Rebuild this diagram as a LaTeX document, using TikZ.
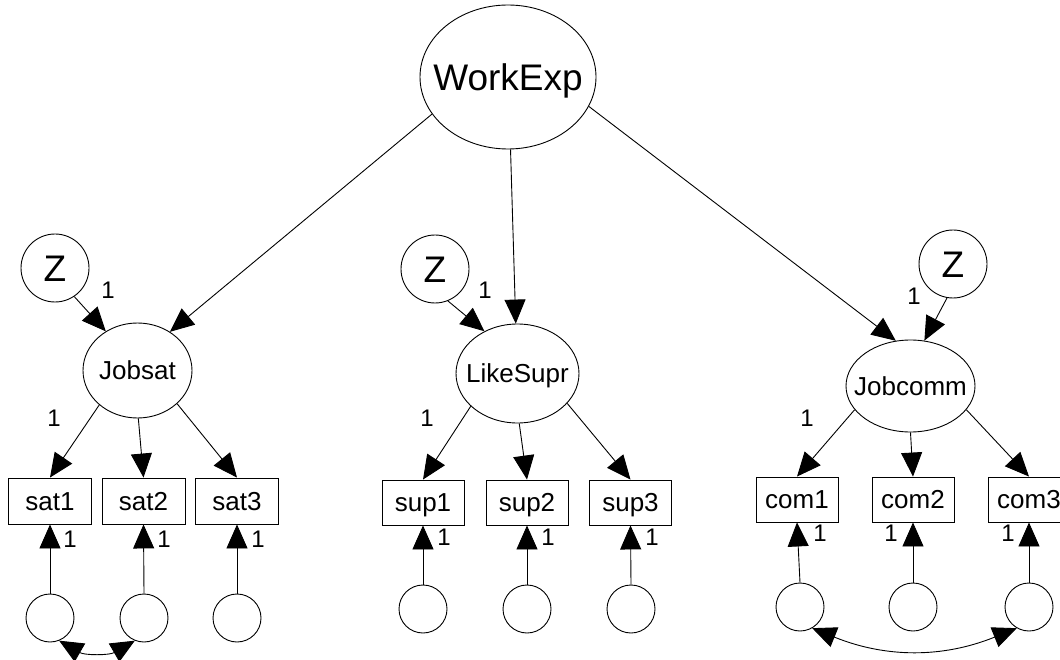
\documentclass[tikz,border=0pt]{standalone}
\usepackage{fontspec}
\setmainfont{Liberation Sans}
\usetikzlibrary{arrows.meta,shapes.geometric}
\tikzset{
  base/.style={draw=black,line width=0.9pt,inner sep=0pt,text depth=0pt},
  lat/.style={base,ellipse,font=\fontsize{26}{26}\selectfont,text height=18.6pt},
  big/.style={base,ellipse,font=\fontsize{37}{37}\selectfont,text height=26.5pt},
  zc/.style={base,circle,minimum size=68pt,font=\fontsize{37}{37}\selectfont,text height=26.5pt},
  obs/.style={base,rectangle,minimum width=83pt,minimum height=46pt,font=\fontsize{26}{26}\selectfont,text height=18.6pt},
  err/.style={base,circle,minimum size=48pt},
  lbl/.style={inner sep=0pt,font=\fontsize{24}{24}\selectfont,text height=17.2pt,text depth=0pt},
  arr/.style={line width=0.9pt,-{Triangle[length=24pt,width=21pt]}},
  cov/.style={line width=0.9pt,{Triangle[length=24pt,width=21pt]}-{Triangle[length=24pt,width=21pt]}}
}
\begin{document}
\begin{tikzpicture}[x=1pt,y=-1pt]
\useasboundingbox (0,0) rectangle (1060,660);
\clip (0,0) rectangle (1060,660);
\fill[white] (0,0) rectangle (1060,660);
% latent variables
\node[big,minimum width=176pt,minimum height=144pt] (W) at (508,77) {\makebox[0pt]{WorkExp}};
\node[lat,minimum width=109pt,minimum height=95pt] (J) at (137.5,370.5) {\makebox[0pt]{Jobsat}};
\node[lat,minimum width=123pt,minimum height=99pt] (L) at (517.5,373.5) {\makebox[0pt]{LikeSupr}};
\node[lat,minimum width=129pt,minimum height=92pt] (C) at (910.5,386) {\makebox[0pt]{Jobcomm}};
% disturbances
\node[zc] (Z1) at (55,268) {Z};
\node[zc] (Z2) at (435,269) {Z};
\node[zc] (Z3) at (953,264) {Z};
% indicators
\node[obs] (s1) at (50,501) {sat1};
\node[obs] (s2) at (143.5,501) {sat2};
\node[obs] (s3) at (237,501) {sat3};
\node[obs,minimum width=82pt,minimum height=45pt] (u1) at (423,502.5) {sup1};
\node[obs,minimum width=82pt,minimum height=45pt] (u2) at (527,502.5) {sup2};
\node[obs,minimum width=82pt,minimum height=45pt] (u3) at (630.5,502.5) {sup3};
\node[obs,minimum width=82pt,minimum height=45pt] (c1) at (797,499.5) {com1};
\node[obs,minimum width=82pt,minimum height=45pt] (c2) at (913,499.5) {com2};
\node[obs,minimum width=82pt,minimum height=45pt] (c3) at (1029,499.5) {com3};
% errors
\node[err] (es1) at (50,618) {};
\node[err] (es2) at (144,618) {};
\node[err] (es3) at (237,618) {};
\node[err] (eu1) at (423,609) {};
\node[err] (eu2) at (527,609) {};
\node[err] (eu3) at (631,609) {};
\node[err] (ec1) at (800,607) {};
\node[err] (ec2) at (913,607) {};
\node[err] (ec3) at (1029,607) {};
% structural paths
\draw[arr] (W.-154.7) -- (J.50.5);
\draw[arr] (W.-88) -- (L.92);
\draw[arr] (W.-20) -- (C.108.6);
\draw[arr] (Z1.-56) -- (J.129);
\draw[arr] (Z2.-68) -- (L.128);
\draw[arr] (Z3.-100) -- (C.73.6);
% loadings
\draw[arr] (J.-138.5) -- (s1.north);
\draw[arr] (J.-89) -- (s2.north);
\draw[arr] (J.-40) -- (s3.north);
\draw[arr] (L.-145) -- (u1.north);
\draw[arr] (L.-88) -- (u2.north);
\draw[arr] (L.-31) -- (u3.north);
\draw[arr] (C.-157) -- (c1.north);
\draw[arr] (C.-90) -- (c2.north);
\draw[arr] (C.-23) -- (c3.north);
% error paths
\draw[arr] (es1.north) -- (s1.south);
\draw[arr] (es2.north) -- (s2.south);
\draw[arr] (es3.north) -- (s3.south);
\draw[arr] (eu1.north) -- (u1.south);
\draw[arr] (eu2.north) -- (u2.south);
\draw[arr] (eu3.north) -- (u3.south);
\draw[arr] (ec1.north) -- (c1.south);
\draw[arr] (ec2.north) -- (c2.south);
\draw[arr] (ec3.north) -- (c3.south);
% covariances
\draw[cov] (es1.-68) to[bend right=30] (es2.-112);
\draw[cov] (ec1.-60) to[bend right=22] (ec3.-120);
% labels
\node[lbl] (l1) at (108,290) {1};
\node[lbl] (l2) at (485,290) {1};
\node[lbl] (l3) at (914,296) {1};
\node[lbl] (l4) at (54,418) {1};
\node[lbl] (l5) at (427,418) {1};
\node[lbl] (l6) at (807,418) {1};
\node[lbl] (l7) at (70,539) {1};
\node[lbl] (l8) at (164,539) {1};
\node[lbl] (l9) at (258,539) {1};
\node[lbl] (l10) at (444,537) {1};
\node[lbl] (l11) at (548,537) {1};
\node[lbl] (l12) at (652,537) {1};
\node[lbl] (l13) at (820,533) {1};
\node[lbl] (l14) at (891,533) {1};
\node[lbl] (l15) at (1008,533) {1};
\end{tikzpicture}
\end{document}
